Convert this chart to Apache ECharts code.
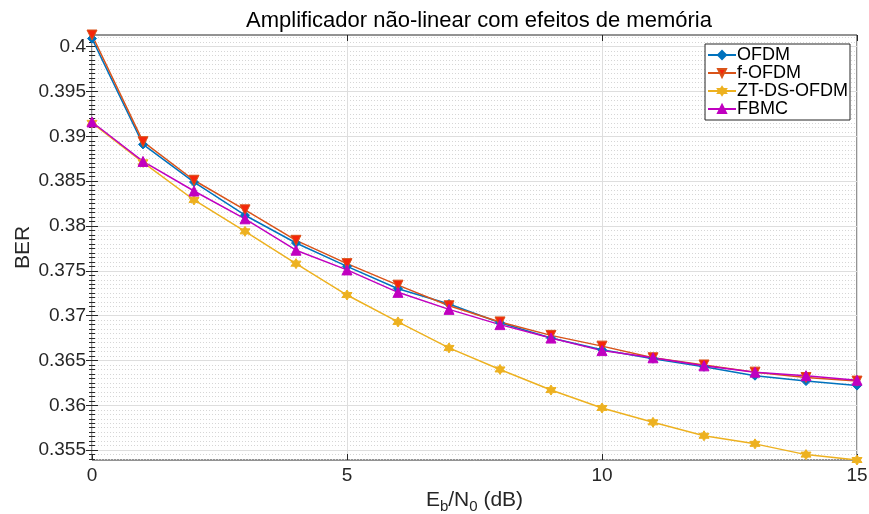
<!DOCTYPE html>
<html>
<head>
<meta charset="utf-8">
<script src="https://cdn.jsdelivr.net/npm/echarts@6/dist/echarts.min.js"></script>
<style>
  html, body { margin: 0; padding: 0; background: #fff; }
  #chart { width: 869px; height: 514px; }
</style>
</head>
<body>
<div id="chart"></div>
<script>
const snr = [0, 1, 2, 3, 4, 5, 6, 7, 8, 9, 10, 11, 12, 13, 14, 15];
const ofdm = [0.4009, 0.3891, 0.3849, 0.3812, 0.3781, 0.3755, 0.3730, 0.3713, 0.3692, 0.3675, 0.3662, 0.3652, 0.3643, 0.3633, 0.3627, 0.3622];
const fOfdm = [0.4013, 0.3894, 0.3851, 0.3818, 0.3784, 0.3758, 0.3734, 0.3711, 0.3693, 0.3678, 0.3666, 0.3653, 0.3645, 0.3637, 0.3631, 0.3627];
const ztDsOfdm = [0.3915, 0.3871, 0.3829, 0.3794, 0.3758, 0.3723, 0.3693, 0.3664, 0.3640, 0.3617, 0.3597, 0.3581, 0.3566, 0.3557, 0.3545, 0.3539];
const fbmc = [0.3916, 0.3872, 0.3839, 0.3808, 0.3773, 0.3751, 0.3726, 0.3707, 0.3690, 0.3675, 0.3661, 0.3653, 0.3644, 0.3637, 0.3633, 0.3628];
const yTicks = [0.355, 0.36, 0.365, 0.37, 0.375, 0.38, 0.385, 0.39, 0.395, 0.4];
const xTicks = [0, 5, 10, 15];

const hexagram = "path://M0,-10L2.887,-5L8.66,-5L5.774,0L8.66,5L2.887,5L0,10L-2.887,5L-8.66,5L-5.774,0L-8.66,-5L-2.887,-5Z";
const font = "Liberation Sans, Arial, sans-serif";
const ink = "#262626";

const pairs = (ys) => snr.map((x, i) => [x, ys[i]]);

function line(name, ys, color, symbol, size, fill) {
  return {
    name, type: "line", data: pairs(ys),
    symbol, symbolSize: size,
    lineStyle: { color, width: 1.5 },
    itemStyle: { color: fill || color, borderColor: color, borderWidth: 1 },
    emphasis: { disabled: true }
  };
}

const yBase = (pos) => ({
  type: "value", position: pos,
  min: 0.3539, max: 0.4013,
  minInterval: 0.005, maxInterval: 0.005,
  axisLine: { show: false },
  axisTick: { show: true, inside: true, length: 6, customValues: yTicks, lineStyle: { color: ink } },
  minorTick: { show: true, splitNumber: 10, length: 3, lineStyle: { color: ink } },
  axisLabel: { show: pos === "left", customValues: yTicks, color: ink, fontFamily: font, fontSize: 19, margin: 6 },
  splitLine: { show: pos === "left", lineStyle: { color: "#dedede", width: 1 } },
  minorSplitLine: { show: pos === "left", lineStyle: { color: "#d6d6d6", type: [1, 2], width: 1 } }
});

const chart = echarts.init(document.getElementById("chart"));
chart.setOption({
  animation: false,
  backgroundColor: "#fff",
  title: {
    text: "Amplificador não-linear com efeitos de memória",
    left: 474, top: 5, textAlign: "center",
    textStyle: { fontFamily: font, fontSize: 22, fontWeight: "normal", color: "#000" }
  },
  grid: {
    left: 92, right: 12, top: 35, bottom: 54, outerBoundsMode: "none", containLabel: false,
    show: true, borderColor: ink, borderWidth: 1, backgroundColor: "transparent"
  },
  legend: {
    orient: "vertical", right: 19, top: 44,
    backgroundColor: "#fff", borderColor: ink, borderWidth: 1,
    padding: [2, 2, 2, 2], itemGap: 0, itemWidth: 28, itemHeight: 10,
    textStyle: { fontFamily: font, fontSize: 18, color: "#000", padding: [0, 0, 0, -4] }
  },
  xAxis: [
    {
      type: "value", min: 0, max: 15, interval: 5,
      name: "E{sub|b}/N{sub|0} (dB)", nameLocation: "middle", nameGap: 22,
      nameTextStyle: { fontFamily: font, fontSize: 21, color: ink, rich: { sub: { fontSize: 15, padding: [12, 0, 0, 0], fontFamily: font, color: ink } } },
      axisLine: { show: false },
      axisTick: { show: true, inside: true, length: 6, customValues: xTicks, lineStyle: { color: ink } },
      axisLabel: { color: ink, fontFamily: font, fontSize: 19, margin: 6, customValues: xTicks },
      splitLine: { show: true, lineStyle: { color: "#dedede", width: 1 } }
    },
    {
      type: "value", position: "top", min: 0, max: 15, interval: 5,
      axisLine: { show: false },
      axisTick: { show: true, inside: true, length: 6, lineStyle: { color: ink } },
      axisLabel: { show: false }, splitLine: { show: false }
    }
  ],
  yAxis: [
    Object.assign(yBase("left"), {
      name: "BER", nameLocation: "middle", nameGap: 58, nameMoveOverlap: false,
      nameTextStyle: { fontFamily: font, fontSize: 21, color: ink }
    }),
    yBase("right")
  ],
  series: [
    line("OFDM", ofdm, "#0072BD", "diamond", 9),
    line("f-OFDM", fOfdm, "#D95319", "triangle", 10, "#F5260B"),
    line("ZT-DS-OFDM", ztDsOfdm, "#EDB120", hexagram, 10),
    line("FBMC", fbmc, "#C000C0", "triangle", 10)
  ].map((s, i) => {
    if (i === 1) s.symbolRotate = 180;
    return s;
  })
});
</script>
</body>
</html>
